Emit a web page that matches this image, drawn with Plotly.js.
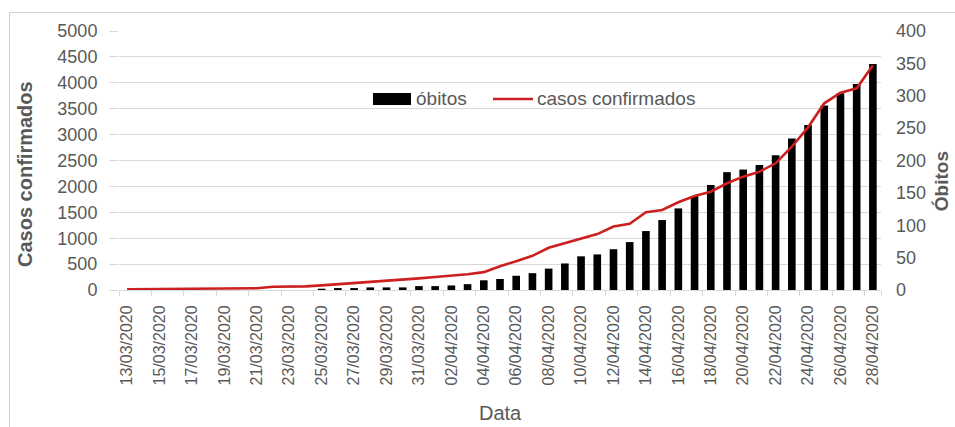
<!DOCTYPE html>
<html>
<head>
<meta charset="utf-8">
<script src="https://cdn.plot.ly/plotly-3.0.1.min.js"></script>
<style>
  html, body { margin: 0; padding: 0; background: #ffffff; }
  #chart { width: 955px; height: 427px; }
</style>
</head>
<body>
<div id="chart"></div>
<script>
// Daily dates (categories on the x axis)
const datas = [
  "13/03/2020", "14/03/2020", "15/03/2020", "16/03/2020", "17/03/2020", "18/03/2020",
  "19/03/2020", "20/03/2020", "21/03/2020", "22/03/2020", "23/03/2020", "24/03/2020",
  "25/03/2020", "26/03/2020", "27/03/2020", "28/03/2020", "29/03/2020", "30/03/2020",
  "31/03/2020", "01/04/2020", "02/04/2020", "03/04/2020", "04/04/2020", "05/04/2020",
  "06/04/2020", "07/04/2020", "08/04/2020", "09/04/2020", "10/04/2020", "11/04/2020",
  "12/04/2020", "13/04/2020", "14/04/2020", "15/04/2020", "16/04/2020", "17/04/2020",
  "18/04/2020", "19/04/2020", "20/04/2020", "21/04/2020", "22/04/2020", "23/04/2020",
  "24/04/2020", "25/04/2020", "26/04/2020", "27/04/2020", "28/04/2020"
];

// Cumulative deaths (right axis)
const obitos = [
  0, 0, 0, 0, 0, 0, 0, 0, 0, 0, 0, 0,
  2, 3, 3, 4, 4, 4, 6, 6, 7, 9, 15, 17,
  22, 26, 33, 41, 52, 55, 63, 74, 91, 108, 126, 145,
  162, 182, 186, 193, 208, 234, 255, 285, 304, 318, 349
];

// Cumulative confirmed cases (left axis)
const casosConfirmados = [
  15, 18, 20, 22, 25, 28, 30, 32, 35, 62, 65, 70,
  90, 110, 135, 160, 180, 200, 225, 250, 275, 305, 345, 460,
  555, 660, 815, 900, 985, 1080, 1225, 1280, 1500, 1544, 1693, 1815,
  1898, 2060, 2188, 2284, 2446, 2766, 3140, 3604, 3809, 3894, 4340
];

// Every second date is labelled
const rotulosX = datas.filter((d, i) => i % 2 === 0);

const cinza = "#595959";
const grade = "#d9d9d9";
const vermelho = "#cc1f1f";
const fonte = "Liberation Sans, Arial, sans-serif";

const traces = [
  {
    type: "bar",
    name: "óbitos",
    x: datas,
    y: obitos,
    yaxis: "y",
    marker: { color: "#000000" },
    showlegend: false,
    hoverinfo: "x+y"
  },
  {
    type: "scatter",
    mode: "lines",
    name: "casos confirmados",
    x: datas,
    y: casosConfirmados,
    yaxis: "y2",
    line: { color: vermelho, width: 2.6 },
    showlegend: false,
    hoverinfo: "x+y"
  }
];

const layout = {
  width: 955,
  height: 427,
  margin: { l: 119, r: 74, t: 31, b: 137 },
  paper_bgcolor: "#ffffff",
  plot_bgcolor: "#ffffff",
  font: { family: fonte, color: cinza },
  bargap: 0.53,
  showlegend: false,
  xaxis: {
    type: "category",
    tickmode: "array",
    tickvals: rotulosX,
    ticktext: rotulosX,
    tickangle: -90,
    tickson: "boundaries",
    ticks: "outside",
    ticklen: 5,
    tickcolor: grade,
    showgrid: false,
    showline: true,
    linecolor: grade,
    linewidth: 1,
    tickfont: { family: fonte, size: 16, color: cinza },
    ticklabelstandoff: 8,
    automargin: false
  },
  // deaths axis (right side); bars are drawn on it
  yaxis: {
    side: "right",
    range: [0, 400],
    dtick: 50,
    showgrid: false,
    zeroline: false,
    showline: false,
    ticks: "",
    tickfont: { family: fonte, size: 18, color: cinza },
    ticklabelstandoff: 14,
    automargin: false
  },
  // confirmed cases axis (left side); the line is drawn on it, above the bars
  yaxis2: {
    overlaying: "y",
    side: "left",
    range: [0, 5000],
    dtick: 500,
    showgrid: true,
    gridcolor: grade,
    gridwidth: 1,
    zeroline: false,
    showline: false,
    ticks: "outside",
    ticklen: 9,
    tickcolor: grade,
    tickfont: { family: fonte, size: 18, color: cinza },
    ticklabelstandoff: 8,
    automargin: false
  },
  shapes: [
    // outer frame of the chart area
    {
      type: "rect", xref: "paper", yref: "paper",
      x0: -0.1437, x1: 1.25, y0: -0.7, y1: 1.0714,
      line: { color: "#cfcfcf", width: 1 }, fillcolor: "rgba(0,0,0,0)"
    },
    // legend swatch: óbitos
    {
      type: "rect", xref: "paper", yref: "paper",
      x0: 0.3333, x1: 0.3832, y0: 0.7143, y1: 0.7606,
      line: { width: 0 }, fillcolor: "#000000"
    },
    // legend swatch: casos confirmados
    {
      type: "line", xref: "paper", yref: "paper",
      x0: 0.4908, x1: 0.5433, y0: 0.7375, y1: 0.7375,
      line: { color: vermelho, width: 2.6 }
    }
  ],
  annotations: [
    {
      text: "óbitos", xref: "paper", yref: "paper",
      x: 0.3871, y: 0.7375, xanchor: "left", yanchor: "middle",
      showarrow: false, font: { family: fonte, size: 19, color: cinza }
    },
    {
      text: "casos confirmados", xref: "paper", yref: "paper",
      x: 0.5459, y: 0.7375, xanchor: "left", yanchor: "middle",
      showarrow: false, font: { family: fonte, size: 19, color: cinza }
    },
    {
      text: "<b>Casos confirmados</b>", xref: "paper", yref: "paper",
      x: -0.1234, y: 0.4479, xanchor: "center", yanchor: "middle",
      textangle: -90, showarrow: false,
      font: { family: fonte, size: 20, color: cinza }
    },
    {
      text: "<b>Óbitos</b>", xref: "paper", yref: "paper",
      x: 1.0787, y: 0.42, xanchor: "center", yanchor: "middle",
      textangle: -90, showarrow: false,
      font: { family: fonte, size: 19, color: cinza }
    },
    {
      text: "Data", xref: "paper", yref: "paper",
      x: 0.5, y: -0.4749, xanchor: "center", yanchor: "middle",
      showarrow: false, font: { family: fonte, size: 20, color: cinza }
    }
  ]
};

Plotly.newPlot("chart", traces, layout, { displayModeBar: false, staticPlot: true });
</script>
</body>
</html>
